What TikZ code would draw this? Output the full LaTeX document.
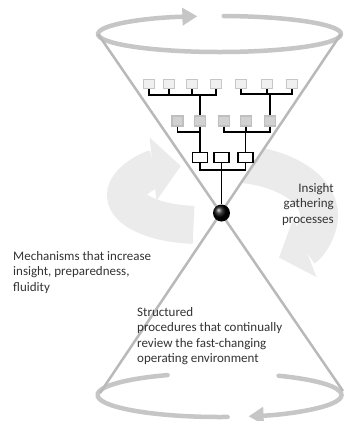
\documentclass[tikz,border=0pt]{standalone}
\usepackage{fontspec}
\setmainfont{Carlito}
\usetikzlibrary{arrows.meta}
\begin{document}
\begin{tikzpicture}[x=1pt,y=-1pt,
  tbox/.style={draw=gray!45, fill=gray!12, line width=1.2pt, minimum width=11pt, minimum height=9pt, inner sep=0pt},
  mbox/.style={draw=gray!50, fill=gray!35, line width=1.2pt, minimum width=11pt, minimum height=10pt, inner sep=0pt},
  bbox/.style={draw=black, fill=white, line width=1.5pt, minimum width=15pt, minimum height=10pt, inner sep=0pt},
  conn/.style={draw=black, line width=1.3pt},
  rim/.style={draw=gray!45, line width=4.5pt, line cap=round},
  cone/.style={draw=gray!55, line width=2.5pt},
  swirl/.style={draw=gray!16, line width=38pt},
  lbl/.style={font=\fontsize{13}{15.5}\selectfont, text=black!80, inner sep=0pt}
]
\useasboundingbox (0,0) rectangle (344,421);
% background circular arrows
\draw[swirl, -{Triangle[width=62pt,length=28pt]}] ([shift={(95:74 and 30)}]200,195) arc[start angle=95, end angle=255, x radius=74, y radius=30];
\draw[swirl, -{Triangle[width=62pt,length=28pt]}] ([shift={(265:94 and 52)}]225,215) arc[start angle=265, end angle=415, x radius=94, y radius=52];
% hourglass interior
\coordinate (tl) at (98,34);
\coordinate (tr) at (341,34);
\coordinate (bl) at (100,393);
\coordinate (br) at (343,391);
\coordinate (x) at (221.5,213);
\fill[white] (tl) -- (tr) -- (x) -- cycle;
\fill[white] (bl) -- (br) -- (x) -- cycle;
% rims
\draw[rim, -{Triangle[width=17pt,length=15pt]}] ([shift={(272:121.5 and 18)}]219.5,34) arc[start angle=272, end angle=619.5, x radius=121.5, y radius=18];
\draw[rim, -{Triangle[width=17pt,length=15pt]}] ([shift={(299:122 and 22)}]219.5,395) arc[start angle=299, end angle=436.2, x radius=122, y radius=22];
\draw[rim] ([shift={(86.2:122 and 22)}]219.5,395) arc[start angle=86.2, end angle=244.8, x radius=122, y radius=22];
% cone lines
\draw[cone] (tl) -- (br);
\draw[cone] (tr) -- (bl);
% tree
\node[tbox] (t1) at (149,84) {};
\node[tbox] (t2) at (169,84) {};
\node[tbox] (t3) at (192,84) {};
\node[tbox] (t4) at (216,84) {};
\node[tbox] (t5) at (241,84) {};
\node[tbox] (t6) at (267,84) {};
\node[tbox] (t7) at (292,84) {};
\node[mbox] (m1) at (177.5,121) {};
\node[mbox] (m2) at (200,121) {};
\node[mbox] (m3) at (224,121) {};
\node[mbox] (m4) at (246,121) {};
\node[mbox] (m5) at (270,121) {};
\node[bbox] (b1) at (200,157.5) {};
\node[bbox] (b2) at (221.5,157.5) {};
\node[bbox] (b3) at (245.5,157.5) {};
\node[circle, minimum size=17pt, inner sep=0pt, shading=ball, ball color=black] (ball) at (x) {};
\coordinate (ja) at (200,95);
\coordinate (jb) at (270,94);
\coordinate (jc) at (200,132);
\coordinate (jd) at (245.5,132);
\coordinate (je) at (221.5,170);
\foreach \n in {t1,t2,t3,t4} \draw[conn] (\n.south) |- (ja);
\draw[conn] (ja) -- (m2.north);
\foreach \n in {t5,t6,t7} \draw[conn] (\n.south) |- (jb);
\draw[conn] (jb) -- (m5.north);
\foreach \n in {m1,m2} \draw[conn] (\n.south) |- (jc);
\draw[conn] (jc) -- (b1.north);
\foreach \n in {m3,m4,m5} \draw[conn] (\n.south) |- (jd);
\draw[conn] (jd) -- (b3.north);
\foreach \n in {b1,b3} \draw[conn] (\n.south) |- (je);
\draw[conn] (b2.south) -- (ball);
% labels
\node[lbl, anchor=north west, align=left] (mech) at (13,251) {Mechanisms that increase\\insight, preparedness,\\fluidity};
\node[lbl, anchor=north east, align=right] (ins) at (334,183) {Insight\\gathering\\processes};
\node[lbl, anchor=north west, align=left] (struc) at (137,307) {Structured\\procedures that continually\\review the fast-changing\\operating environment};
\end{tikzpicture}
\end{document}
